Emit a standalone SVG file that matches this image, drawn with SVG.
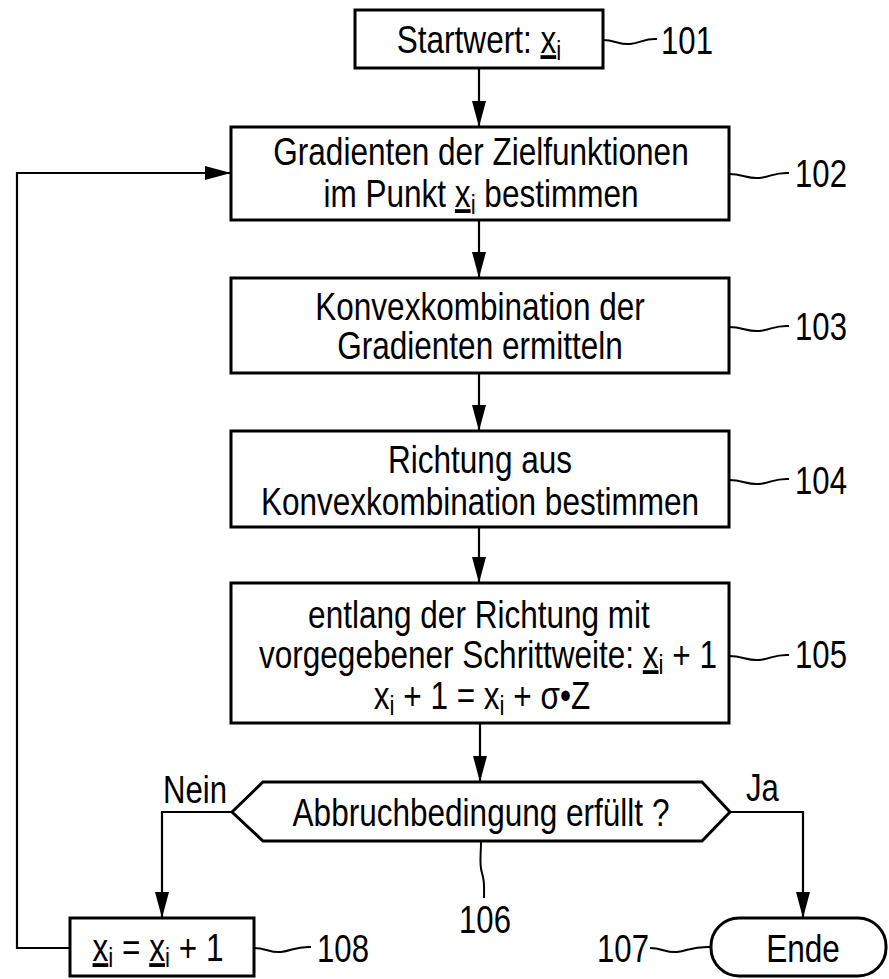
<svg xmlns="http://www.w3.org/2000/svg" width="889" height="979" viewBox="0 0 889 979">
<defs>
<style>
.box{fill:#fff;stroke:#000;stroke-width:3}
.con{fill:none;stroke:#000;stroke-width:2.2}
.sq{fill:none;stroke:#000;stroke-width:2}
.t{font-family:"Liberation Sans",Arial,sans-serif;font-size:38px;fill:#000;text-anchor:middle}
.l{font-family:"Liberation Sans",Arial,sans-serif;font-size:38px;fill:#000;text-anchor:start}
.u{text-decoration:underline}
.sub{font-size:27px}
</style>
<marker id="ah" viewBox="0 0 26 14" refX="26" refY="7" markerWidth="26" markerHeight="14" markerUnits="userSpaceOnUse" orient="auto">
<path d="M0,0 L26,7 L0,14 z" fill="#000"/>
</marker>
</defs>
<rect width="889" height="979" fill="#fff"/>
<g id="connectors">
<path class="con" d="M479,68 V127" marker-end="url(#ah)"/>
<path class="con" d="M479,220 V278" marker-end="url(#ah)"/>
<path class="con" d="M479,373 V431" marker-end="url(#ah)"/>
<path class="con" d="M479,527 V583" marker-end="url(#ah)"/>
<path class="con" d="M480,723 V782" marker-end="url(#ah)"/>
<path class="con" d="M232,812 H162 V918" marker-end="url(#ah)"/>
<path class="con" d="M730,812 H803 V918" marker-end="url(#ah)"/>
<path class="con" d="M70,948 H17 V173 H231" marker-end="url(#ah)"/>
<text class="l" transform="translate(163,803) scale(0.82,1)">Nein</text>
<text class="l" transform="translate(746,801) scale(0.82,1)">Ja</text>
</g>
<g id="n101">
<rect class="box" x="355" y="10" width="248" height="58"/>
<text class="t" transform="translate(479,53) scale(0.83,1)">Startwert: <tspan class="u">x</tspan><tspan class="sub" dy="7">i</tspan></text>
<path class="sq" d="M603,40 c12,0 16,5 27,4 c11,-1 15,-6 27,-5"/>
<text class="l" transform="translate(661,54) scale(0.82,1)">101</text>
</g>
<g id="n102">
<rect class="box" x="231" y="127" width="498" height="93"/>
<text class="t" transform="translate(481,165) scale(0.83,1)">Gradienten der Zielfunktionen</text>
<text class="t" transform="translate(481,207) scale(0.83,1)">im Punkt <tspan class="u">x</tspan><tspan class="sub" dy="7">i</tspan><tspan dy="-7"> bestimmen</tspan></text>
<path class="sq" d="M729,174 c14,0 18,5 30,4 c12,-1 16,-6 30,-5"/>
<text class="l" transform="translate(795,187) scale(0.82,1)">102</text>
</g>
<g id="n103">
<rect class="box" x="231" y="278" width="498" height="95"/>
<text class="t" transform="translate(480,320) scale(0.83,1)">Konvexkombination der</text>
<text class="t" transform="translate(480,359) scale(0.83,1)">Gradienten ermitteln</text>
<path class="sq" d="M729,327 c14,0 18,5 30,4 c12,-1 16,-6 30,-5"/>
<text class="l" transform="translate(795,340) scale(0.82,1)">103</text>
</g>
<g id="n104">
<rect class="box" x="231" y="431" width="498" height="96"/>
<text class="t" transform="translate(480,473) scale(0.83,1)">Richtung aus</text>
<text class="t" transform="translate(480,515) scale(0.83,1)">Konvexkombination bestimmen</text>
<path class="sq" d="M729,480 c14,0 18,5 30,4 c12,-1 16,-6 30,-5"/>
<text class="l" transform="translate(795,494) scale(0.82,1)">104</text>
</g>
<g id="n105">
<rect class="box" x="231" y="583" width="498" height="140"/>
<text class="t" transform="translate(479,628) scale(0.83,1)">entlang der Richtung mit</text>
<text class="t" transform="translate(488,668) scale(0.83,1)">vorgegebener Schrittweite: <tspan class="u">x</tspan><tspan class="sub" dy="6">i</tspan><tspan dy="-6"> + 1</tspan></text>
<text class="t" transform="translate(482,709) scale(0.83,1)">x<tspan class="sub" dy="6">i</tspan><tspan dy="-6"> + 1 = x</tspan><tspan class="sub" dy="6">i</tspan><tspan dy="-6"> + σ•Z</tspan></text>
<path class="sq" d="M729,656 c14,0 18,5 30,4 c12,-1 16,-6 30,-5"/>
<text class="l" transform="translate(795,668) scale(0.82,1)">105</text>
</g>
<g id="n106">
<polygon class="box" points="232,812 263,782 702,782 730,812 702,841 263,841"/>
<text class="t" transform="translate(481,826) scale(0.83,1)">Abbruchbedingung erfüllt ?</text>
<path class="sq" d="M481,842 c0,14 -2,22 1,31 c3,9 2,17 2,25"/>
<text class="t" transform="translate(485,933) scale(0.82,1)">106</text>
</g>
<g id="n107">
<rect class="box" x="711" y="918" width="175" height="58" rx="28" ry="28"/>
<text class="t" transform="translate(803,962) scale(0.83,1)">Ende</text>
<path class="sq" d="M650,948 c12,0 16,5 27,4 c11,-1 15,-6 34,-5"/>
<text class="l" transform="translate(597,962) scale(0.82,1)">107</text>
</g>
<g id="n108">
<rect class="box" x="70" y="918" width="184" height="58"/>
<text class="t" transform="translate(158,961) scale(0.83,1)"><tspan class="u">x</tspan><tspan class="sub" dy="6">i</tspan><tspan dy="-6"> = </tspan><tspan class="u">x</tspan><tspan class="sub" dy="6">i</tspan><tspan dy="-6"> + 1</tspan></text>
<path class="sq" d="M254,948 c12,0 16,5 27,4 c11,-1 15,-6 30,-5"/>
<text class="l" transform="translate(317,962) scale(0.82,1)">108</text>
</g>
</svg>
